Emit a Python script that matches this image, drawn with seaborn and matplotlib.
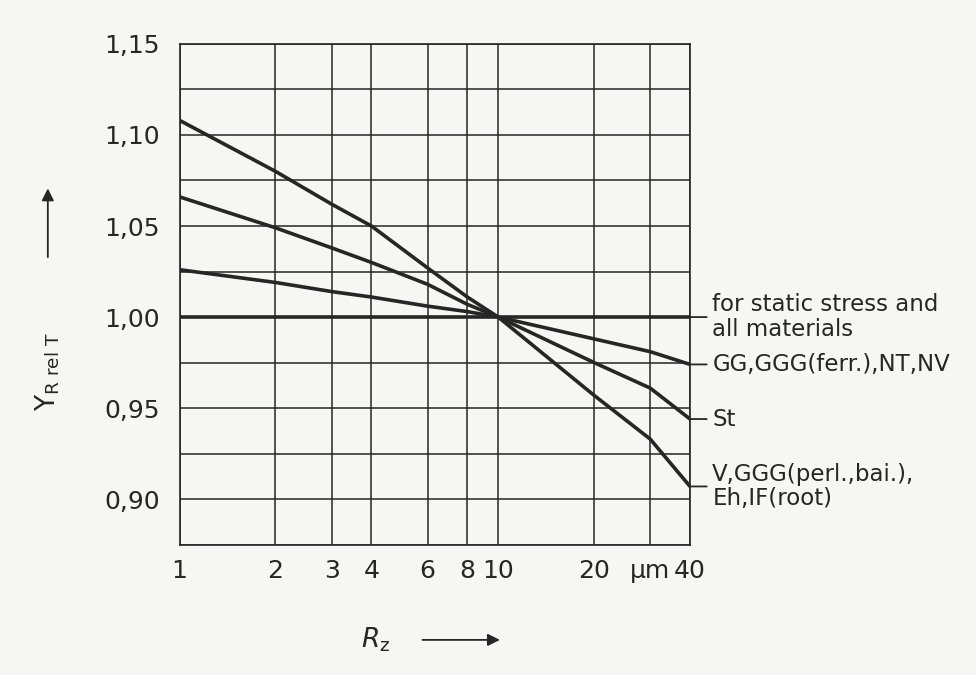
import pandas as pd
import seaborn as sns
import matplotlib.pyplot as plt

# Roughness values Rz (um) read at the grid lines
rz = [1, 2, 3, 4, 6, 8, 10, 20, 30, 40]

# Relative surface factor Y_R rel T for each material group
y_static = [1.000, 1.000, 1.000, 1.000, 1.000, 1.000, 1.000, 1.000, 1.000, 1.000]
y_gg = [1.026, 1.019, 1.014, 1.011, 1.006, 1.003, 1.000, 0.988, 0.981, 0.974]
y_st = [1.066, 1.049, 1.038, 1.030, 1.018, 1.007, 1.000, 0.975, 0.961, 0.944]
y_v = [1.108, 1.080, 1.062, 1.050, 1.027, 1.011, 1.000, 0.957, 0.933, 0.907]

series_labels = [
    "for static stress and\nall materials",
    "GG,GGG(ferr.),NT,NV",
    "St",
    "V,GGG(perl.,bai.),\nEh,IF(root)",
]

x_tick_labels = ["1", "2", "3", "4", "6", "8", "10", "20", "\u03bcm", "40"]
y_major = [0.90, 0.95, 1.00, 1.05, 1.10, 1.15]
y_minor = [0.875, 0.925, 0.975, 1.025, 1.075, 1.125]
y_tick_labels = ["0,90", "0,95", "1,00", "1,05", "1,10", "1,15"]

# long-form table for seaborn
frames = []
for name, vals in zip(series_labels, [y_static, y_gg, y_st, y_v]):
    frames.append(pd.DataFrame({"Rz": rz, "Y": vals, "series": name}))
data = pd.concat(frames, ignore_index=True)

sns.set_style("white")
plt.rcParams["font.family"] = ["DejaVu Sans"]

paper = "#f6f6f4"
ink = "#262626"

fig = plt.figure(figsize=(9.76, 6.75), dpi=100, facecolor=paper)
ax = fig.add_axes([0.184, 0.193, 0.523, 0.742])
ax.set_facecolor(paper)

sns.lineplot(
    data=data, x="Rz", y="Y", hue="series",
    palette=[ink] * 4, linewidth=2.6, legend=False, ax=ax,
)

ax.set_xscale("log")
ax.set_xlim(1, 40)
ax.set_ylim(0.875, 1.15)

ax.set_xticks(rz)
ax.set_xticklabels(x_tick_labels)
ax.minorticks_off()
ax.set_yticks(y_major)
ax.set_yticklabels(y_tick_labels)
ax.set_yticks(y_minor, minor=True)

ax.grid(True, which="both", color=ink, linewidth=1.1)
ax.tick_params(axis="both", which="both", length=0)
ax.tick_params(axis="y", labelsize=18, pad=14, colors=ink)
ax.tick_params(axis="x", labelsize=18, pad=10, colors=ink)
for s in ax.spines.values():
    s.set_color(ink)
    s.set_linewidth(1.2)
ax.set_xlabel("")
ax.set_ylabel("")

# leaders and labels at the right-hand end of each curve
for name, vals in zip(series_labels, [y_static, y_gg, y_st, y_v]):
    ax.annotate(
        "", xy=(rz[-1], vals[-1]), xytext=(12, 0), textcoords="offset points",
        arrowprops=dict(arrowstyle="-", color=ink, lw=1.3,
                        shrinkA=0, shrinkB=0),
        annotation_clip=False,
    )
    ax.annotate(
        name, xy=(rz[-1], vals[-1]), xytext=(16, 0), textcoords="offset points",
        ha="left", va="center", fontsize=16.5, color=ink,
        linespacing=1.1, annotation_clip=False,
    )

# axis titles with arrows
fig.text(0.385, 0.052, r"$R_{\mathrm{z}}$", fontsize=19, color=ink,
         ha="center", va="center")
fig.add_artist(plt.Annotation(
    "", xy=(0.515, 0.052), xytext=(0.43, 0.052),
    xycoords="figure fraction", textcoords="figure fraction",
    arrowprops=dict(arrowstyle="-|>", color=ink, lw=1.3, mutation_scale=18),
))
fig.text(0.049, 0.45, r"$\mathrm{Y}_{\mathrm{R\ rel\ T}}$", fontsize=19, color=ink,
         rotation=90, ha="center", va="center")
fig.add_artist(plt.Annotation(
    "", xy=(0.049, 0.725), xytext=(0.049, 0.615),
    xycoords="figure fraction", textcoords="figure fraction",
    arrowprops=dict(arrowstyle="-|>", color=ink, lw=1.3, mutation_scale=18),
))

fig.savefig("out.png", dpi=100, facecolor=paper)
